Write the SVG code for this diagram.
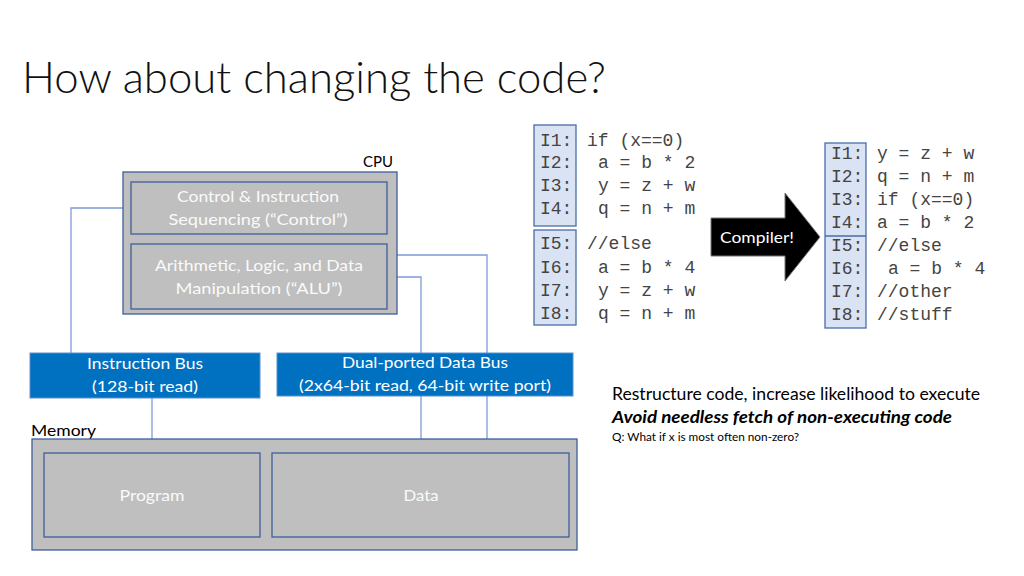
<svg xmlns="http://www.w3.org/2000/svg" width="1024" height="576" viewBox="0 0 1024 576">
<style>
.t{font-family:Lato,"Open Sans","Liberation Sans",sans-serif}
.w{fill:#fafafa;font-size:16px;text-anchor:middle}
.k{fill:#000;font-size:16px}
.g{fill:#bfbfbf;stroke:#3f5f9a;stroke-width:1.3}
.bus{fill:#0070c0;stroke:#5b8fd0;stroke-width:1}
.bw{fill:#fff;font-size:16px;text-anchor:middle}
.ln{fill:none;stroke:#7f9bd6;stroke-width:1.3}
.lab{fill:#dae3f3;stroke:#4a6da7;stroke-width:1.3}
.c{font-family:"Liberation Mono","Courier New",monospace;font-size:18px;fill:#444;white-space:pre}
</style>
<rect width="1024" height="576" fill="#fff"/>
<text class="t" x="22" y="93" font-size="44" font-weight="300" fill="#111" textLength="584" lengthAdjust="spacingAndGlyphs">How about changing the code?</text>

<g id="connectors">
<polyline class="ln" points="123,208 71,208 71,353"/>
<polyline class="ln" points="397,255 487,255 487,353"/>
<polyline class="ln" points="397,277 421,277 421,353"/>
<line class="ln" x1="152" y1="398" x2="152" y2="439"/>
<line class="ln" x1="421" y1="396" x2="421" y2="439"/>
<line class="ln" x1="487" y1="396" x2="487" y2="439"/>
</g>

<g id="cpu">
<text class="t k" x="378" y="167" text-anchor="middle" textLength="30" lengthAdjust="spacingAndGlyphs">CPU</text>
<rect class="g" x="123" y="172" width="274" height="142"/>
</g>
<g id="control">
<rect class="g" x="131" y="182" width="256" height="52"/>
<text class="t w" x="258" y="202" textLength="162" lengthAdjust="spacingAndGlyphs">Control &amp; Instruction</text>
<text class="t w" x="258" y="225" textLength="179" lengthAdjust="spacingAndGlyphs">Sequencing (“Control”)</text>
</g>
<g id="alu">
<rect class="g" x="131" y="244" width="256" height="65"/>
<text class="t w" x="259" y="271" textLength="208" lengthAdjust="spacingAndGlyphs">Arithmetic, Logic, and Data</text>
<text class="t w" x="259" y="294" textLength="167" lengthAdjust="spacingAndGlyphs">Manipulation (“ALU”)</text>
</g>

<g id="instruction-bus">
<rect class="bus" x="30" y="353" width="230" height="45"/>
<text class="t bw" x="145" y="369" textLength="116" lengthAdjust="spacingAndGlyphs">Instruction Bus</text>
<text class="t bw" x="145" y="392" textLength="106" lengthAdjust="spacingAndGlyphs">(128-bit read)</text>
</g>
<g id="data-bus">
<rect class="bus" x="277" y="353" width="296" height="43"/>
<text class="t bw" x="425" y="368" textLength="166" lengthAdjust="spacingAndGlyphs">Dual-ported Data Bus</text>
<text class="t bw" x="425" y="391" textLength="252" lengthAdjust="spacingAndGlyphs">(2x64-bit read, 64-bit write port)</text>
</g>

<g id="memory">
<text class="t k" x="31" y="436" textLength="65" lengthAdjust="spacingAndGlyphs">Memory</text>
<rect class="g" x="32" y="439" width="545" height="111"/>
</g>
<g id="program">
<rect class="g" x="44" y="453" width="216" height="84"/>
<text class="t w" x="152" y="501" textLength="65" lengthAdjust="spacingAndGlyphs">Program</text>
</g>
<g id="data">
<rect class="g" x="272" y="453" width="297" height="84"/>
<text class="t w" x="421" y="501" textLength="35" lengthAdjust="spacingAndGlyphs">Data</text>
</g>

<g id="code-original">
<rect class="lab" x="534" y="125" width="42" height="101"/>
<rect class="lab" x="534" y="230" width="42" height="95"/>
<text class="c" x="540" y="146">I1:</text>
<text class="c" x="540" y="168">I2:</text>
<text class="c" x="540" y="191">I3:</text>
<text class="c" x="540" y="214">I4:</text>
<text class="c" x="540" y="249">I5:</text>
<text class="c" x="540" y="273">I6:</text>
<text class="c" x="540" y="296">I7:</text>
<text class="c" x="540" y="319">I8:</text>
<text class="c" x="587" y="146">if (x==0)</text>
<text class="c" x="598" y="168">a = b * 2</text>
<text class="c" x="598" y="191">y = z + w</text>
<text class="c" x="598" y="214">q = n + m</text>
<text class="c" x="587" y="249">//else</text>
<text class="c" x="598" y="273">a = b * 4</text>
<text class="c" x="598" y="296">y = z + w</text>
<text class="c" x="598" y="319">q = n + m</text>
</g>

<g id="compiler">
<polygon points="711,218 785,218 785,193 820,237 785,281 785,256 711,256" fill="#000" stroke="#777" stroke-width="1"/>
<text class="t" x="757" y="243" font-size="16" fill="#fff" text-anchor="middle" textLength="74" lengthAdjust="spacingAndGlyphs">Compiler!</text>
</g>

<g id="code-restructured">
<rect class="lab" x="825" y="143" width="41" height="185"/>
<line x1="825" y1="236" x2="866" y2="236" stroke="#4a6da7" stroke-width="1.3"/>
<text class="c" x="831" y="159">I1:</text>
<text class="c" x="831" y="182">I2:</text>
<text class="c" x="831" y="205">I3:</text>
<text class="c" x="831" y="228">I4:</text>
<text class="c" x="831" y="251">I5:</text>
<text class="c" x="831" y="274">I6:</text>
<text class="c" x="831" y="297">I7:</text>
<text class="c" x="831" y="320">I8:</text>
<text class="c" x="877" y="159">y = z + w</text>
<text class="c" x="877" y="182">q = n + m</text>
<text class="c" x="877" y="205">if (x==0)</text>
<text class="c" x="877" y="228">a = b * 2</text>
<text class="c" x="877" y="251">//else</text>
<text class="c" x="888" y="274">a = b * 4</text>
<text class="c" x="877" y="297">//other</text>
<text class="c" x="877" y="320">//stuff</text>
</g>

<g id="notes">
<text class="t" x="612" y="400" font-size="17" fill="#000" textLength="368" lengthAdjust="spacingAndGlyphs">Restructure code, increase likelihood to execute</text>
<text class="t" x="612" y="423" font-size="17" font-weight="bold" font-style="italic" fill="#000" textLength="340" lengthAdjust="spacingAndGlyphs">Avoid needless fetch of non-executing code</text>
<text class="t" x="612" y="441" font-size="11" fill="#000" textLength="187" lengthAdjust="spacingAndGlyphs">Q: What if x is most often non-zero?</text>
</g>
</svg>
